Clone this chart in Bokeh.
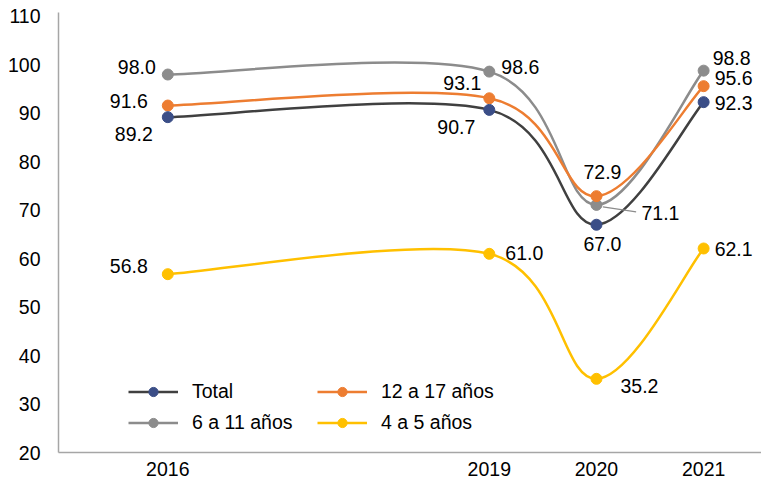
from bokeh.plotting import figure
from bokeh.models import Range1d, FixedTicker, Legend, LegendItem, ColumnDataSource
from bokeh.embed import file_html
from bokeh.resources import INLINE
from bokeh.core.properties import value

# ---------------- data ----------------
years = [2016, 2019, 2020, 2021]
total = [89.2, 90.7, 67.0, 92.3]
age_6_11 = [98.0, 98.6, 71.1, 98.8]
age_12_17 = [91.6, 93.1, 72.9, 95.6]
age_4_5 = [56.8, 61.0, 35.2, 62.1]
series_names = ["Total", "6 a 11 años", "12 a 17 años", "4 a 5 años"]
y_ticks = [20, 30, 40, 50, 60, 70, 80, 90, 100, 110]

# ---------------- style ----------------
FONT = "Liberation Sans"
FSIZE = "19.5px"
line_colors = {"Total": "#404040", "6 a 11 años": "#8c8c8c",
               "12 a 17 años": "#ed7d31", "4 a 5 años": "#ffc000"}
marker_colors = {"Total": "#3b4e87", "6 a 11 años": "#8c8c8c",
                 "12 a 17 años": "#ed7d31", "4 a 5 años": "#ffc000"}
# label placement per point: (align, x_offset px, y_offset px)
label_style = {
    "Total": [("right", -15, 17), ("right", -14, 17), ("center", 6, 19), ("left", 11, 1)],
    "6 a 11 años": [("right", -12, -8), ("left", 12, -5), ("left", 45, 8), ("left", 9, -13)],
    "12 a 17 años": [("right", -20, -5), ("right", -8, -15), ("center", 6, -24), ("left", 11, -8)],
    "4 a 5 años": [("right", -20, -8), ("left", 16, -1), ("left", 24, 7), ("left", 11, 1)],
}

series_values = {"Total": total, "6 a 11 años": age_6_11,
                 "12 a 17 años": age_12_17, "4 a 5 años": age_4_5}


def smooth_segments(xs, ys):
    """Cubic Bezier control points (Catmull-Rom style smoothing)."""
    n = len(xs)
    out = dict(x0=[], y0=[], x1=[], y1=[], cx0=[], cy0=[], cx1=[], cy1=[])
    for i in range(n - 1):
        a = max(i - 1, 0)
        d = min(i + 2, n - 1)
        out["x0"].append(xs[i]); out["y0"].append(ys[i])
        out["x1"].append(xs[i + 1]); out["y1"].append(ys[i + 1])
        out["cx0"].append(xs[i] + (xs[i + 1] - xs[a]) / 6)
        out["cy0"].append(ys[i] + (ys[i + 1] - ys[a]) / 6)
        out["cx1"].append(xs[i + 1] - (xs[d] - xs[i]) / 6)
        out["cy1"].append(ys[i + 1] - (ys[d] - ys[i]) / 6)
    return out


p = figure(width=761, height=484, output_backend="svg", toolbar_location=None,
           x_range=Range1d(2014.98, 2021.54), y_range=Range1d(20, 110.8),
           min_border_left=58, min_border_right=0, min_border_top=12, min_border_bottom=32)
p.outline_line_color = None
p.xgrid.visible = False
p.ygrid.visible = False
p.background_fill_color = "white"

for ax in (p.xaxis[0], p.yaxis[0]):
    ax.axis_line_color = "#a6a6a6"
    ax.axis_line_width = 1.5
    ax.major_tick_line_color = None
    ax.minor_tick_line_color = None
    ax.major_tick_out = 0
    ax.major_tick_in = 0
    ax.minor_tick_out = 0
    ax.major_label_text_font = FONT
    ax.major_label_text_font_size = FSIZE
    ax.major_label_text_color = "black"

p.xaxis.ticker = FixedTicker(ticks=years)
p.yaxis.ticker = FixedTicker(ticks=y_ticks)
p.xaxis.major_label_standoff = 9
p.yaxis.major_label_standoff = 18

draw_order = ["4 a 5 años", "6 a 11 años", "12 a 17 años", "Total"]
renderers = {}
for name in draw_order:
    vals = series_values[name]
    seg = ColumnDataSource(smooth_segments(years, vals))
    b = p.bezier(x0="x0", y0="y0", x1="x1", y1="y1", cx0="cx0", cy0="cy0",
                 cx1="cx1", cy1="cy1", source=seg,
                 line_color=line_colors[name], line_width=2.5)
    s = p.scatter(x=years, y=vals, size=11, marker="circle",
                  fill_color=marker_colors[name], line_color=marker_colors[name])
    renderers[name] = (b, s)

# leader line for the 71.1 label
p.segment(x0=[years[2] + 0.06], y0=[age_6_11[2] - 0.4],
          x1=[years[2] + 0.37], y1=[age_6_11[2] - 1.45],
          line_color="#8c8c8c", line_width=1.2)

# data labels
for name in draw_order:
    vals = series_values[name]
    for i, (yr, v) in enumerate(zip(years, vals)):
        align, dx, dy = label_style[name][i]
        p.text(x=[yr], y=[v], text=[f"{v:.1f}"], text_align=align,
               text_baseline="middle", x_offset=dx, y_offset=dy,
               text_font=value(FONT), text_font_size=FSIZE, text_color="black")

items = [LegendItem(label=n, renderers=list(renderers[n])) for n in series_names]
legend = Legend(items=items, ncols=2, location=(70, 18),
                glyph_width=50, glyph_height=23, label_height=23,
                label_width=117, label_standoff=14, spacing=8,
                padding=0, margin=0, border_line_color=None,
                background_fill_alpha=0,
                label_text_font=FONT, label_text_font_size=FSIZE,
                label_text_color="black")
p.add_layout(legend, "center")

open("out.html", "w").write(file_html(p, INLINE))
